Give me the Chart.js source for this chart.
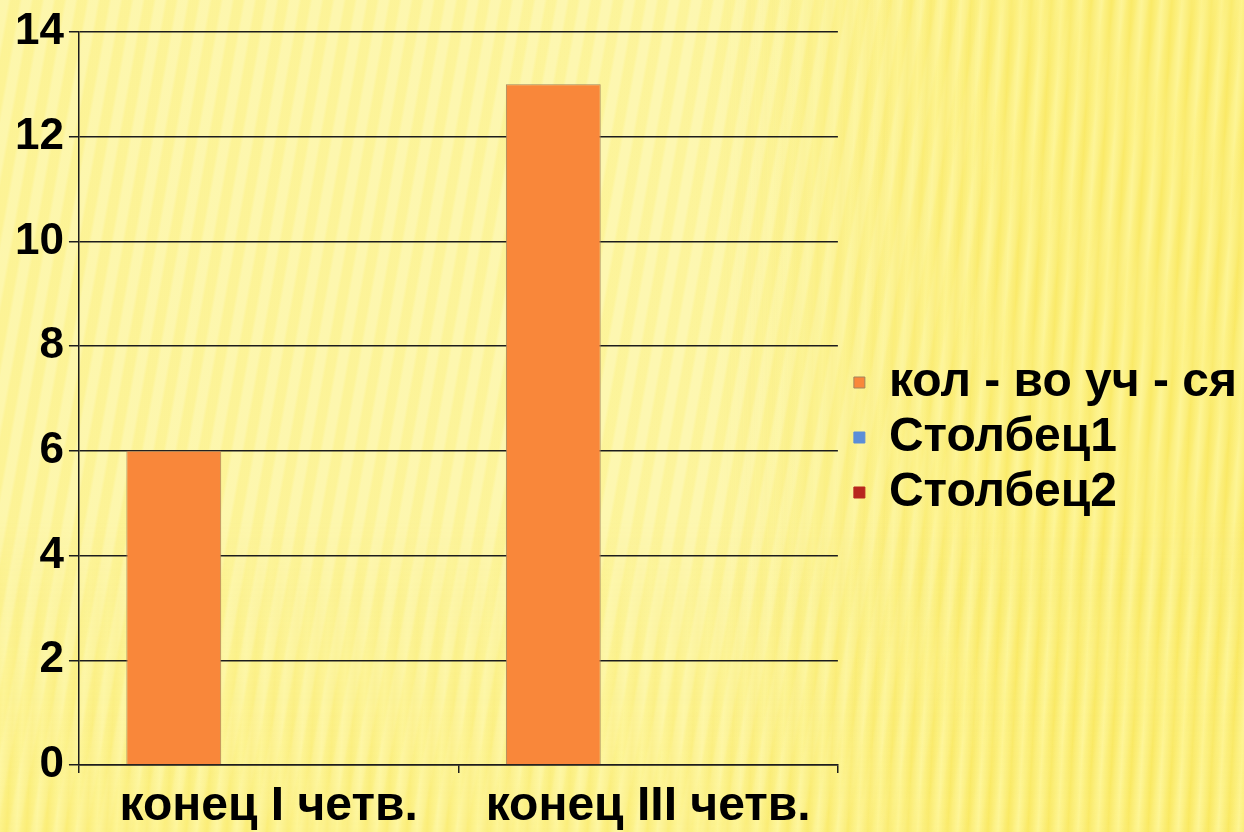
<!DOCTYPE html>
<html>
<head>
<meta charset="utf-8">
<script src="https://cdn.jsdelivr.net/npm/chart.js@4/dist/chart.umd.min.js"></script>
<style>
  html, body { margin: 0; padding: 0; }
  body {
    position: relative;
    width: 1244px;
    height: 832px;
    overflow: hidden;
    background:
      repeating-linear-gradient(100deg, rgba(255,255,255,0.16) 0px, rgba(255,255,255,0.16) 8px, rgba(240,210,40,0.06) 11px, rgba(240,210,40,0.06) 19px, rgba(255,255,255,0.16) 22px),
      linear-gradient(90deg, #FDF59C 0%, #FDF6A2 55%, #FBEE7C 100%);
  }
  body::before, body::after {
    content: '';
    position: absolute;
    left: 0; top: 0; width: 1244px; height: 832px;
    background: repeating-linear-gradient(93deg, rgba(254,246,150,0.7) 0px, rgba(249,232,95,0.7) 10px, rgba(254,246,150,0.7) 20px);
  }
  body::before {
    -webkit-mask-image: linear-gradient(90deg, transparent 58%, black 82%);
    mask-image: linear-gradient(90deg, transparent 58%, black 82%);
  }
  body::after {
    -webkit-mask-image: linear-gradient(to bottom, transparent 62%, rgba(0,0,0,0.8) 100%);
    mask-image: linear-gradient(to bottom, transparent 62%, rgba(0,0,0,0.8) 100%);
  }
  #wrap { position: relative; z-index: 1; width: 1244px; height: 832px; }
</style>
</head>
<body>
<div id="wrap"><canvas id="chart" width="1244" height="832"></canvas></div>
<script>
const categories = ['конец I четв.', 'конец III четв.'];
const seriesNames = ['кол - во уч - ся', 'Столбец1', 'Столбец2'];
const studentCount = [6, 13];
const column1 = [null, null];
const column2 = [null, null];
const yTicks = [0, 2, 4, 6, 8, 10, 12, 14];

const fontFamily = '"Liberation Sans", Arial, sans-serif';
const lineColor = '#1c1c1c';

// the layout caps a side legend at a quarter of the width, let it take what it needs
const wideLegend = {
    id: 'wideLegend',
    beforeLayout(chart) {
        const legend = chart.legend;
        if (legend && !legend._wide) {
            const fit = legend.fit;
            legend.fit = function () {
                this.maxWidth = 2000;
                fit.call(this);
                this.width += 6;
            };
            legend._wide = true;
        }
    },
    afterLayout(chart) {
        // nudge the legend items right, the plot keeps its edge
        chart.legend.left += 9;
        chart.legend.right += 9;
    }
};

const ctx = document.getElementById('chart').getContext('2d');

new Chart(ctx, {
    type: 'bar',
    data: {
        labels: categories,
        datasets: [{
            label: seriesNames[0],
            data: studentCount,
            backgroundColor: '#F9873A',
            borderColor: '#A3845C',
            borderWidth: 1,
        }, {
            label: seriesNames[1],
            data: column1,
            backgroundColor: '#5B8ED8',
            borderColor: '#5B8ED8',
            borderWidth: 1,
        }, {
            label: seriesNames[2],
            data: column2,
            backgroundColor: '#B8261E',
            borderColor: '#B8261E',
            borderWidth: 1,
        }]
    },
    plugins: [wideLegend],
    options: {
        responsive: false,
        animation: false,
        categoryPercentage: 0.75,
        barPercentage: 1,
        layout: {
            padding: { top: 32, left: 10, right: 0, bottom: 0 }
        },
        plugins: {
            tooltip: { enabled: false },
            legend: {
                position: 'right',
                title: {
                    display: true,
                    text: '',
                    font: { size: 1, lineHeight: 1 },
                    padding: { top: 5, bottom: 5 },
                },
                labels: {
                    color: '#000',
                    boxWidth: 11,
                    boxHeight: 11,
                    padding: 7,
                    font: { family: fontFamily, size: 48, weight: 'bold', lineHeight: 1 },
                },
            },
        },
        scales: {
            x: {
                afterFit: (scale) => { scale.height = 67; },
                grid: {
                    drawOnChartArea: false,
                    drawTicks: true,
                    tickLength: 8,
                    color: lineColor,
                    lineWidth: 1.5,
                },
                border: { display: true, color: lineColor, width: 1.5 },
                ticks: {
                    color: '#000',
                    padding: 10,
                    font: { family: fontFamily, size: 48, weight: 'bold', lineHeight: 1 },
                },
            },
            y: {
                min: 0,
                max: 14,
                afterBuildTicks: (axis) => { axis.ticks = yTicks.map(v => ({ value: v })); },
                grid: {
                    color: lineColor,
                    lineWidth: 1.5,
                    tickLength: 10,
                },
                border: { display: true, color: lineColor, width: 1.5 },
                ticks: {
                    color: '#000',
                    padding: 5,
                    font: { family: fontFamily, size: 44, weight: 'bold' },
                },
            },
        },
    },
});
</script>
</body>
</html>
